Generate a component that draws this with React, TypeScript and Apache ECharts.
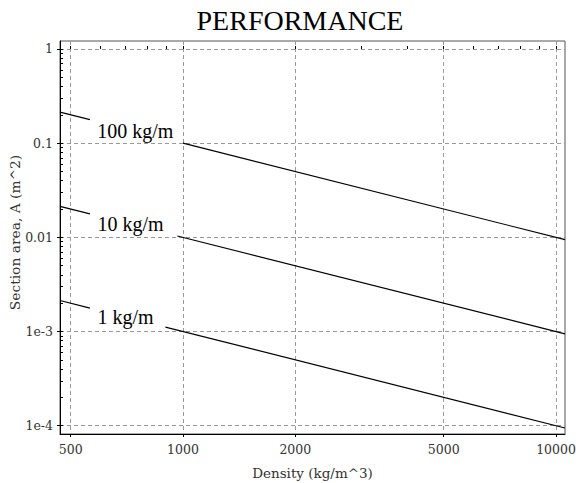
import React, { useEffect, useRef } from "react";
import * as echarts from "echarts";

const titleText = "PERFORMANCE";
const xAxisName = "Density (kg/m^3)";
const yAxisName = "Section area, A (m^2)";

const xRange = [468, 10570];
const yRange = [8.17e-5, 1.216];

const xMajorTicks = [500, 1000, 2000, 5000, 10000];
const xMajorLabels = ["500", "1000", "2000", "5000", "10000"];
const xMinorTicks = [600, 700, 800, 900, 3000, 4000, 6000, 7000, 8000, 9000];

const yMajorTicks = [1, 0.1, 0.01, 0.001, 0.0001];
const yMajorLabels = ["1", "0.1", "0.01", "1e-3", "1e-4"];
const yMinorTicks = [
  0.9, 0.8, 0.7, 0.6, 0.5, 0.4, 0.3, 0.2,
  0.09, 0.08, 0.07, 0.06, 0.05, 0.04, 0.03, 0.02,
  0.009, 0.008, 0.007, 0.006, 0.005, 0.004, 0.003, 0.002,
  0.0009, 0.0008, 0.0007, 0.0006, 0.0005, 0.0004, 0.0003, 0.0002,
];

const lineLabels = ["100 kg/m", "10 kg/m", "1 kg/m"];
const leftStartDensity = [468, 468, 468];
const leftStartArea = [0.2137, 0.02137, 0.002137];
const leftEndDensity = [563, 563, 563];
const leftEndArea = [0.1776, 0.01776, 0.001776];
const rightStartDensity = [1000, 966, 897];
const rightStartArea = [0.1, 0.01035, 0.001115];
const rightEndDensity = [10570, 10570, 10570];
const rightEndArea = [0.00946, 0.000946, 0.0000946];
const labelDensity = [745, 723, 701];
const labelArea = [0.1342, 0.01383, 0.001427];

const lg = (v: number) => Math.log10(v);
const tickFont = "DejaVu Serif";
const tickColor = "#333";

function fmt(ticks: number[], labels: string[]) {
  return (v: number) => {
    const i = ticks.findIndex((t) => Math.abs(lg(t) - v) < 1e-6);
    return i >= 0 ? labels[i] : "";
  };
}

export default function App() {
  const ref = useRef<HTMLDivElement>(null);
  useEffect(() => {
    if (!ref.current) return;
    const chart = echarts.init(ref.current, undefined, { renderer: "svg" });
    const series: any[] = [];
    lineLabels.forEach((_, i) => {
      series.push({
        type: "line",
        xAxisIndex: 0,
        yAxisIndex: 0,
        symbol: "none",
        silent: true,
        clip: true,
        lineStyle: { color: "#000", width: 1.2 },
        data: [
          [lg(leftStartDensity[i]), lg(leftStartArea[i])],
          [lg(leftEndDensity[i]), lg(leftEndArea[i])],
        ],
      });
      series.push({
        type: "line",
        xAxisIndex: 0,
        yAxisIndex: 0,
        symbol: "none",
        silent: true,
        clip: true,
        lineStyle: { color: "#000", width: 1.2 },
        data: [
          [lg(rightStartDensity[i]), lg(rightStartArea[i])],
          [lg(rightEndDensity[i]), lg(rightEndArea[i])],
        ],
      });
    });

    const xMin = lg(xRange[0]);
    const xMax = lg(xRange[1]);
    const yMin = lg(yRange[0]);
    const yMax = lg(yRange[1]);

    chart.setOption({
      animation: false,
      title: {
        text: titleText,
        left: 295,
        textAlign: "center",
        top: 1,
        textStyle: {
          fontFamily: "Liberation Serif",
          fontSize: 28,
          fontWeight: "normal",
          color: "#000",
        },
      },
      grid: {
        left: 60,
        top: 41,
        right: 11,
        bottom: 49,
        show: true,
        borderColor: "#555",
        borderWidth: 1,
        containLabel: false,
        outerBoundsMode: "none",
      },
      xAxis: [
        {
          type: "value",
          position: "bottom",
          min: xMin,
          max: xMax,
          name: xAxisName,
          nameLocation: "middle",
          nameGap: 32,
          nameTextStyle: { fontFamily: tickFont, fontSize: 13.5, color: tickColor },
          axisLine: { show: true, onZero: false, lineStyle: { color: "#000" } },
          axisTick: {
            show: true,
            inside: false,
            length: 3,
            customValues: xMajorTicks.map(lg),
            lineStyle: { color: "#000" },
          },
          axisLabel: {
            customValues: xMajorTicks.map(lg),
            formatter: fmt(xMajorTicks, xMajorLabels),
            margin: 9,
            fontFamily: tickFont,
            fontSize: 12.5,
            color: tickColor,
          },
          splitLine: {
            show: true,
            lineStyle: { type: [4, 3], color: "#999", width: 1 },
          },
        },
        {
          type: "value",
          position: "bottom",
          min: xMin,
          max: xMax,
          axisLine: { show: false },
          axisTick: {
            show: true,
            inside: true,
            length: 3,
            customValues: [...xMinorTicks, ...xMajorTicks].map(lg),
            lineStyle: { color: "#000" },
          },
          axisLabel: { show: false },
          splitLine: { show: false },
        },
      ],
      yAxis: [
        {
          type: "value",
          position: "left",
          min: yMin,
          max: yMax,
          name: yAxisName,
          nameLocation: "middle",
          nameGap: 38,
          nameMoveOverlap: false,
          nameTextStyle: {
            fontFamily: tickFont,
            fontSize: 13.8,
            color: tickColor,
            padding: [0, 0, 0, 10],
          },
          axisLine: { show: true, onZero: false, lineStyle: { color: "#000" } },
          axisTick: {
            show: true,
            inside: false,
            length: 3,
            customValues: yMajorTicks.map(lg),
            lineStyle: { color: "#000" },
          },
          axisLabel: {
            customValues: yMajorTicks.map(lg),
            formatter: fmt(yMajorTicks, yMajorLabels),
            margin: 7,
            fontFamily: tickFont,
            fontSize: 12.5,
            color: tickColor,
          },
          splitLine: {
            show: true,
            lineStyle: { type: [4, 3], color: "#999", width: 1 },
          },
        },
        {
          type: "value",
          position: "left",
          min: yMin,
          max: yMax,
          axisLine: { show: false },
          axisTick: {
            show: true,
            inside: true,
            length: 3,
            customValues: [...yMinorTicks, ...yMajorTicks].map(lg),
            lineStyle: { color: "#000" },
          },
          axisLabel: { show: false },
          splitLine: { show: false },
        },
      ],
      series,
    });

    const labelGraphics = lineLabels.map((text, i) => {
      const p = chart.convertToPixel({ xAxisIndex: 0, yAxisIndex: 0 } as any, [
        lg(labelDensity[i]),
        lg(labelArea[i]),
      ]) as number[];
      return {
        type: "text",
        x: p[0],
        y: p[1],
        silent: true,
        style: {
          text,
          fontFamily: "Liberation Serif",
          fontSize: 20,
          fill: "#000",
          align: "center",
          verticalAlign: "middle",
        },
      };
    });
    chart.setOption({ graphic: labelGraphics });

    return () => chart.dispose();
  }, []);
  return (
    <div
      ref={ref}
      style={{ position: "fixed", left: 0, top: 0, width: 576, height: 483, background: "#fff" }}
    />
  );
}
